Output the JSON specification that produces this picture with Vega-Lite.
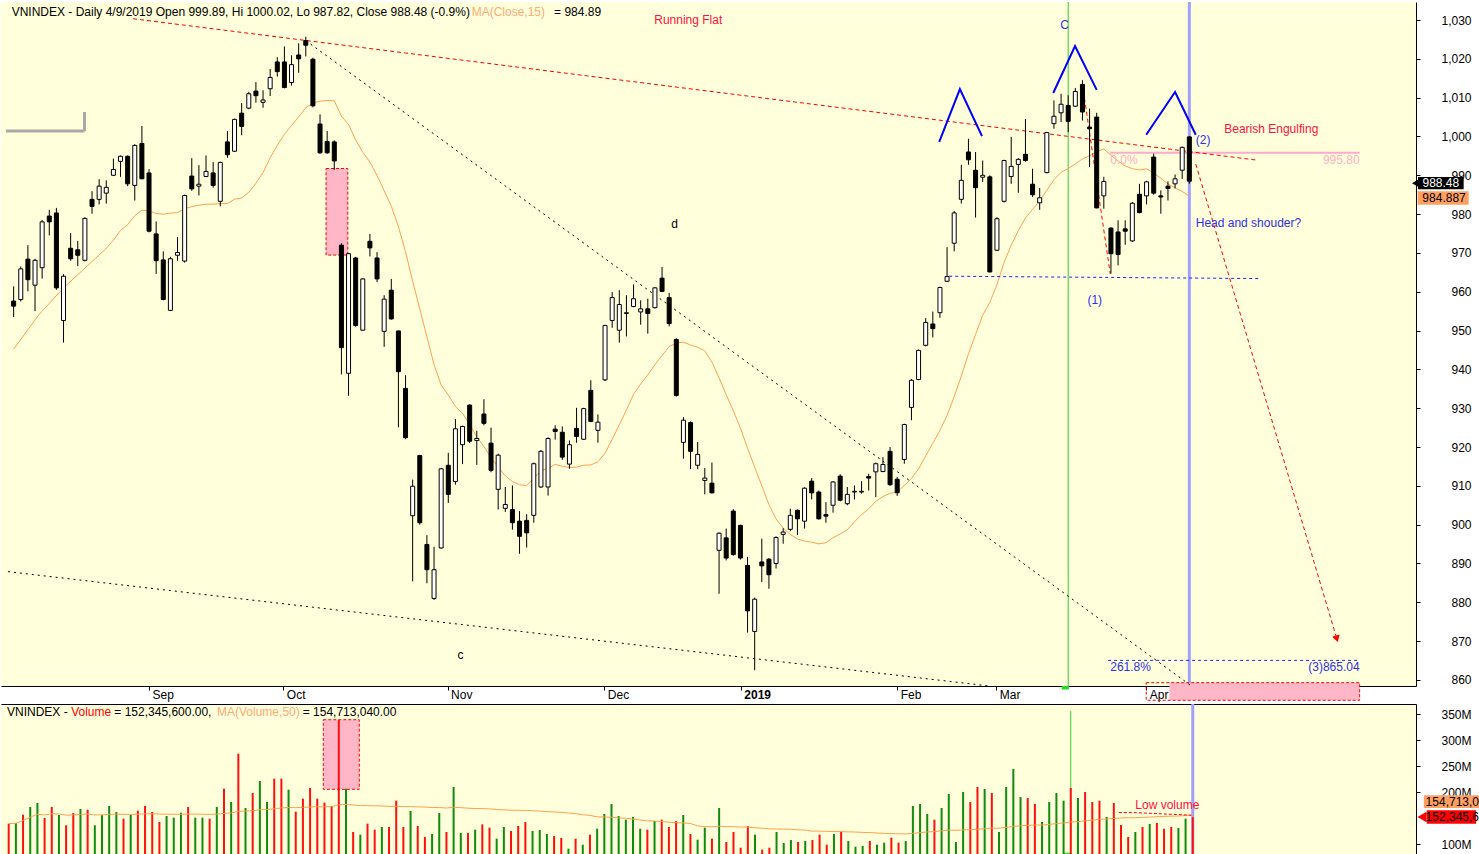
{
  "$schema": "https://vega.github.io/schema/vega-lite/v6.json",
  "background": "white",
  "padding": 0,
  "spacing": 18,
  "bounds": "flush",
  "config": {
    "view": {"fill": "#FFFFDC", "stroke": null},
    "font": "Liberation Sans",
    "text": {"font": "Liberation Sans", "fontSize": 12}
  },
  "datasets": {
    "candles": [
      {"t":0,"o":957.6,"h":961.4,"l":953.5,"c":956.3,"v":139.7},
      {"t":1,"o":958.0,"h":966.5,"l":957.5,"c":965.9,"v":141},
      {"t":2,"o":968.4,"h":972.0,"l":960.1,"c":963.1,"v":157},
      {"t":3,"o":961.7,"h":968.5,"l":955.0,"c":968.1,"v":171.7},
      {"t":4,"o":966.2,"h":978.5,"l":963.4,"c":978.0,"v":179.4},
      {"t":5,"o":979.5,"h":981.1,"l":974.5,"c":978.0,"v":150.6},
      {"t":6,"o":980.3,"h":981.6,"l":960.5,"c":961.0,"v":171.7},
      {"t":7,"o":952.6,"h":964.5,"l":946.9,"c":964.0,"v":156.3},
      {"t":8,"o":971.2,"h":975.1,"l":968.0,"c":968.5,"v":136.5},
      {"t":9,"o":970.8,"h":973.1,"l":966.6,"c":969.4,"v":160.2},
      {"t":10,"o":968.1,"h":979.2,"l":967.8,"c":978.9,"v":167.9},
      {"t":11,"o":983.8,"h":985.9,"l":980.1,"c":982.0,"v":166.6},
      {"t":12,"o":983.8,"h":989.0,"l":982.5,"c":987.2,"v":136.5},
      {"t":13,"o":985.4,"h":988.7,"l":982.7,"c":986.9,"v":156.3},
      {"t":14,"o":990.0,"h":994.3,"l":989.8,"c":991.5,"v":173.6},
      {"t":15,"o":993.6,"h":995.1,"l":989.6,"c":994.9,"v":162.1},
      {"t":16,"o":994.9,"h":995.1,"l":987.2,"c":987.8,"v":149.3},
      {"t":17,"o":987.4,"h":998.0,"l":983.5,"c":997.7,"v":156.3},
      {"t":18,"o":998.2,"h":1002.7,"l":989.0,"c":989.1,"v":164.7},
      {"t":19,"o":990.6,"h":991.6,"l":975.3,"c":975.6,"v":173.6},
      {"t":20,"o":974.9,"h":978.1,"l":964.6,"c":968.0,"v":162.1},
      {"t":21,"o":968.2,"h":970.4,"l":957.8,"c":958.0,"v":142.9},
      {"t":22,"o":955.2,"h":969.0,"l":955.0,"c":968.5,"v":154.4},
      {"t":23,"o":969.4,"h":974.1,"l":968.0,"c":970.1,"v":151.2},
      {"t":24,"o":967.9,"h":985.0,"l":967.5,"c":984.8,"v":160.8},
      {"t":25,"o":989.8,"h":994.4,"l":986.0,"c":986.5,"v":171.7},
      {"t":26,"o":987.2,"h":992.6,"l":984.8,"c":987.7,"v":151.2},
      {"t":27,"o":989.7,"h":995.1,"l":989.5,"c":991.0,"v":151.2},
      {"t":28,"o":990.6,"h":993.4,"l":986.8,"c":987.4,"v":149.3},
      {"t":29,"o":983.3,"h":993.5,"l":982.0,"c":993.3,"v":171.7},
      {"t":30,"o":998.6,"h":1001.4,"l":994.5,"c":995.3,"v":207},
      {"t":31,"o":996.2,"h":1004.6,"l":996.0,"c":1004.4,"v":181.3},
      {"t":32,"o":1006.0,"h":1008.6,"l":1000.3,"c":1002.6,"v":274.3},
      {"t":33,"o":1007.3,"h":1011.5,"l":1007.0,"c":1011.0,"v":169.8},
      {"t":34,"o":1011.7,"h":1014.0,"l":1008.7,"c":1010.5,"v":198.6},
      {"t":35,"o":1008.8,"h":1011.9,"l":1007.4,"c":1009.4,"v":221.7},
      {"t":36,"o":1012.3,"h":1017.4,"l":1010.4,"c":1015.2,"v":181.3},
      {"t":37,"o":1019.2,"h":1020.4,"l":1015.4,"c":1016.7,"v":226.2},
      {"t":38,"o":1019.2,"h":1023.2,"l":1012.4,"c":1012.6,"v":226.2},
      {"t":39,"o":1013.9,"h":1020.9,"l":1013.1,"c":1018.5,"v":205},
      {"t":40,"o":1021.0,"h":1024.0,"l":1016.4,"c":1020.0,"v":162.7},
      {"t":41,"o":1024.7,"h":1025.7,"l":1020.6,"c":1023.5,"v":187.8},
      {"t":42,"o":1019.9,"h":1020.3,"l":1007.5,"c":1007.9,"v":208.3},
      {"t":43,"o":1003.2,"h":1005.7,"l":995.5,"c":995.8,"v":187.8},
      {"t":44,"o":998.7,"h":1001.4,"l":995.5,"c":995.8,"v":180.1},
      {"t":45,"o":998.6,"h":999.0,"l":991.4,"c":993.7,"v":173.6},
      {"t":46,"o":972.0,"h":972.5,"l":938.7,"c":945.6,"v":339},
      {"t":47,"o":939.0,"h":970.0,"l":933.2,"c":969.8,"v":207},
      {"t":48,"o":968.7,"h":969.0,"l":951.0,"c":951.3,"v":123.7},
      {"t":49,"o":950.1,"h":963.5,"l":950.0,"c":963.3,"v":118.5},
      {"t":50,"o":973.0,"h":974.9,"l":969.1,"c":971.3,"v":139.7},
      {"t":51,"o":968.7,"h":970.2,"l":962.5,"c":963.3,"v":128.1},
      {"t":52,"o":949.8,"h":959.1,"l":945.8,"c":958.1,"v":133.3},
      {"t":53,"o":960.4,"h":963.3,"l":952.8,"c":953.0,"v":133.3},
      {"t":54,"o":949.9,"h":950.0,"l":925.1,"c":939.4,"v":183.9},
      {"t":55,"o":935.1,"h":938.5,"l":922.0,"c":922.4,"v":133.3},
      {"t":56,"o":902.3,"h":911.6,"l":885.4,"c":909.9,"v":164.0},
      {"t":57,"o":917.8,"h":918.0,"l":900.0,"c":900.5,"v":135.2},
      {"t":58,"o":894.9,"h":897.3,"l":884.9,"c":888.4,"v":114},
      {"t":59,"o":881.0,"h":894.3,"l":880.6,"c":888.4,"v":119.8},
      {"t":60,"o":894.0,"h":914.6,"l":893.8,"c":914.4,"v":160.2},
      {"t":61,"o":915.3,"h":918.5,"l":905.6,"c":907.8,"v":123.7},
      {"t":62,"o":911.1,"h":927.2,"l":910.3,"c":924.7,"v":210.2},
      {"t":63,"o":920.6,"h":925.5,"l":915.6,"c":925.3,"v":121.7},
      {"t":64,"o":930.8,"h":931.0,"l":921.0,"c":921.5,"v":121.7},
      {"t":65,"o":921.7,"h":924.2,"l":915.4,"c":922.2,"v":128.1},
      {"t":66,"o":928.5,"h":932.3,"l":925.6,"c":926.1,"v":138.4},
      {"t":67,"o":921.0,"h":925.0,"l":913.5,"c":914.0,"v":132},
      {"t":68,"o":909.1,"h":918.3,"l":903.9,"c":917.9,"v":110.8},
      {"t":69,"o":904.2,"h":909.7,"l":903.3,"c":905.2,"v":133.3},
      {"t":70,"o":903.9,"h":910.1,"l":898.7,"c":900.5,"v":125.6},
      {"t":71,"o":900.9,"h":903.5,"l":892.5,"c":897.0,"v":135.2},
      {"t":72,"o":901.1,"h":902.7,"l":894.1,"c":897.9,"v":142.9},
      {"t":73,"o":902.4,"h":916.0,"l":900.5,"c":915.7,"v":125.6},
      {"t":74,"o":909.7,"h":919.2,"l":909.5,"c":918.9,"v":127.5},
      {"t":75,"o":909.7,"h":922.5,"l":907.5,"c":922.2,"v":119.8},
      {"t":76,"o":924.6,"h":925.6,"l":921.9,"c":924.0,"v":116},
      {"t":77,"o":923.8,"h":925.3,"l":916.7,"c":917.4,"v":112.1},
      {"t":78,"o":915.6,"h":921.7,"l":914.4,"c":920.6,"v":91.6},
      {"t":79,"o":924.8,"h":930.1,"l":921.1,"c":922.7,"v":110.8},
      {"t":80,"o":922.0,"h":930.1,"l":921.8,"c":929.9,"v":99.3},
      {"t":81,"o":934.6,"h":937.2,"l":926.4,"c":926.6,"v":118.5},
      {"t":82,"o":924.3,"h":928.4,"l":921.1,"c":926.4,"v":130},
      {"t":83,"o":937.3,"h":951.5,"l":937.0,"c":951.3,"v":158.3},
      {"t":84,"o":952.6,"h":959.9,"l":950.7,"c":958.5,"v":177.5},
      {"t":85,"o":950.1,"h":960.4,"l":946.9,"c":956.7,"v":154.4},
      {"t":86,"o":954.4,"h":959.1,"l":948.5,"c":954.6,"v":147.4},
      {"t":87,"o":956.2,"h":961.9,"l":956.0,"c":958.2,"v":152.5},
      {"t":88,"o":954.8,"h":957.8,"l":951.5,"c":955.6,"v":130},
      {"t":89,"o":955.6,"h":958.2,"l":949.2,"c":954.4,"v":128.1},
      {"t":90,"o":955.9,"h":961.2,"l":955.7,"c":961.0,"v":144.8},
      {"t":91,"o":963.5,"h":966.4,"l":959.9,"c":960.1,"v":147.4},
      {"t":92,"o":958.5,"h":959.7,"l":951.1,"c":951.8,"v":133.3},
      {"t":93,"o":947.7,"h":948.0,"l":933.0,"c":933.3,"v":144.8},
      {"t":94,"o":921.2,"h":927.7,"l":917.0,"c":926.9,"v":156.3},
      {"t":95,"o":926.3,"h":926.6,"l":914.3,"c":918.9,"v":119.8},
      {"t":96,"o":915.3,"h":921.3,"l":914.3,"c":918.1,"v":108.9},
      {"t":97,"o":911.4,"h":914.6,"l":907.8,"c":912.0,"v":132},
      {"t":98,"o":910.7,"h":916.0,"l":908.0,"c":908.2,"v":110.8},
      {"t":99,"o":893.4,"h":898.0,"l":882.2,"c":897.8,"v":169.8},
      {"t":100,"o":896.6,"h":899.0,"l":890.8,"c":891.4,"v":104.4},
      {"t":101,"o":903.5,"h":904.0,"l":892.0,"c":892.3,"v":123.7},
      {"t":102,"o":899.8,"h":900.0,"l":891.0,"c":891.4,"v":93.5},
      {"t":103,"o":889.5,"h":891.7,"l":872.2,"c":877.8,"v":135.2},
      {"t":104,"o":872.5,"h":881.2,"l":862.5,"c":880.8,"v":118.5},
      {"t":105,"o":890.4,"h":896.4,"l":885.2,"c":889.4,"v":89.7},
      {"t":106,"o":891.1,"h":891.4,"l":883.5,"c":887.1,"v":93.5},
      {"t":107,"o":890.0,"h":897.0,"l":888.7,"c":896.7,"v":123.7},
      {"t":108,"o":897.5,"h":899.1,"l":895.1,"c":898.1,"v":102.5},
      {"t":109,"o":898.8,"h":904.1,"l":898.3,"c":902.4,"v":108.3},
      {"t":110,"o":903.7,"h":903.9,"l":897.3,"c":901.5,"v":104.4},
      {"t":111,"o":900.9,"h":909.6,"l":899.0,"c":909.4,"v":106.3},
      {"t":112,"o":911.2,"h":912.0,"l":906.5,"c":908.2,"v":108.3},
      {"t":113,"o":908.4,"h":908.8,"l":901.3,"c":901.5,"v":118.5},
      {"t":114,"o":902.6,"h":905.8,"l":900.5,"c":902.2,"v":99.3},
      {"t":115,"o":905.0,"h":911.2,"l":903.1,"c":911.0,"v":119.8},
      {"t":116,"o":912.5,"h":913.0,"l":906.0,"c":906.3,"v":123.7},
      {"t":117,"o":905.4,"h":909.7,"l":905.0,"c":907.8,"v":106.3},
      {"t":118,"o":908.4,"h":910.1,"l":906.5,"c":908.6,"v":95.4},
      {"t":119,"o":908.4,"h":911.2,"l":908.0,"c":908.6,"v":96.7},
      {"t":120,"o":912.4,"h":913.1,"l":908.8,"c":912.0,"v":106.3},
      {"t":121,"o":913.6,"h":916.0,"l":907.1,"c":915.7,"v":99.3},
      {"t":122,"o":913.7,"h":917.4,"l":913.5,"c":915.5,"v":103.1},
      {"t":123,"o":918.9,"h":920.0,"l":910.0,"c":910.3,"v":112.7},
      {"t":124,"o":911.7,"h":912.3,"l":907.4,"c":908.2,"v":103.1},
      {"t":125,"o":916.8,"h":926.0,"l":915.7,"c":925.8,"v":106.3},
      {"t":126,"o":930.2,"h":937.5,"l":926.9,"c":937.2,"v":173.6},
      {"t":127,"o":937.4,"h":945.1,"l":937.2,"c":944.9,"v":177.5},
      {"t":128,"o":946.2,"h":953.2,"l":945.9,"c":952.1,"v":158.3},
      {"t":129,"o":951.7,"h":954.9,"l":948.2,"c":950.5,"v":147.4},
      {"t":130,"o":954.6,"h":961.3,"l":953.3,"c":961.1,"v":169.8},
      {"t":131,"o":962.7,"h":971.5,"l":962.5,"c":963.9,"v":196.7},
      {"t":132,"o":972.5,"h":980.8,"l":970.4,"c":980.3,"v":104.4},
      {"t":133,"o":983.8,"h":992.7,"l":982.7,"c":988.7,"v":200.6},
      {"t":134,"o":996.0,"h":999.4,"l":992.7,"c":994.0,"v":181.3},
      {"t":135,"o":991.3,"h":996.0,"l":979.1,"c":986.8,"v":210.2},
      {"t":136,"o":989.5,"h":993.8,"l":988.3,"c":990.0,"v":206.3},
      {"t":137,"o":989.6,"h":990.0,"l":965.0,"c":965.1,"v":198.6},
      {"t":138,"o":970.7,"h":979.2,"l":970.5,"c":978.8,"v":123.7},
      {"t":139,"o":983.3,"h":994.0,"l":983.0,"c":993.8,"v":210.2},
      {"t":140,"o":989.7,"h":999.9,"l":987.8,"c":992.3,"v":244.8},
      {"t":141,"o":992.8,"h":994.4,"l":985.5,"c":994.1,"v":190.9},
      {"t":142,"o":995.4,"h":1004.5,"l":993.5,"c":993.8,"v":189},
      {"t":143,"o":987.7,"h":991.7,"l":984.4,"c":985.0,"v":177.5},
      {"t":144,"o":982.9,"h":986.7,"l":981.1,"c":984.2,"v":142.9},
      {"t":145,"o":990.7,"h":1001.2,"l":990.5,"c":1001.0,"v":181.3},
      {"t":146,"o":1003.3,"h":1009.3,"l":1002.0,"c":1005.2,"v":198.6},
      {"t":147,"o":1006.1,"h":1011.0,"l":1003.7,"c":1008.3,"v":183.9},
      {"t":148,"o":1008.0,"h":1010.6,"l":1001.1,"c":1003.9,"v":208.3},
      {"t":149,"o":1007.8,"h":1012.5,"l":1007.6,"c":1011.6,"v":189},
      {"t":150,"o":1013.4,"h":1014.5,"l":1004.1,"c":1006.3,"v":200.6},
      {"t":151,"o":1002.4,"h":1007.2,"l":992.1,"c":1002.0,"v":181.3},
      {"t":152,"o":1005.0,"h":1006.1,"l":981.5,"c":981.6,"v":183.9},
      {"t":153,"o":984.7,"h":989.6,"l":981.4,"c":988.4,"v":152.5},
      {"t":154,"o":976.4,"h":976.6,"l":964.7,"c":969.8,"v":179.4},
      {"t":155,"o":975.4,"h":978.4,"l":966.8,"c":969.6,"v":137.1},
      {"t":156,"o":976.2,"h":978.4,"l":972.1,"c":975.6,"v":114},
      {"t":157,"o":973.1,"h":983.1,"l":972.8,"c":982.8,"v":123.7},
      {"t":158,"o":985.1,"h":987.8,"l":980.2,"c":980.4,"v":133.3},
      {"t":159,"o":984.7,"h":988.6,"l":982.5,"c":988.3,"v":139},
      {"t":160,"o":994.7,"h":995.6,"l":985.0,"c":985.4,"v":141},
      {"t":161,"o":984.7,"h":986.1,"l":980.1,"c":984.4,"v":130},
      {"t":162,"o":987.2,"h":988.4,"l":983.5,"c":986.6,"v":133.3},
      {"t":163,"o":987.8,"h":990.2,"l":986.6,"c":989.1,"v":131.3},
      {"t":164,"o":991.3,"h":997.4,"l":989.1,"c":997.2,"v":149.3},
      {"t":165,"o":999.89,"h":1000.02,"l":987.82,"c":988.48,"v":152.35}
    ],
    "segs": [
      {"g":"red","id":"tr","t":16.77,"p":1030.33},{"g":"red","id":"tr","t":174.5,"p":993.9},
      {"g":"red","id":"leg","t":150.0,"p":1013.5},{"g":"red","id":"leg","t":153.9,"p":964.6},
      {"g":"red","id":"arr","t":165.9,"p":992.9},{"g":"red","id":"arr","t":185.7,"p":870.6},
      {"g":"blk","id":"b1","t":41.0,"p":1024.7},{"g":"blk","id":"b1","t":165.3,"p":858.44},
      {"g":"blk","id":"b2","t":-0.8,"p":887.9},{"g":"blk","id":"b2","t":136.9,"p":858.44},
      {"g":"neck","id":"n","t":131.3,"p":964.0},{"g":"neck","id":"n","t":174.7,"p":963.4},
      {"g":"neck","id":"f1","t":153.6,"p":865.04},{"g":"neck","id":"f1","t":188.9,"p":865.04},
      {"g":"pink","id":"f0","t":153.9,"p":995.8},{"g":"pink","id":"f0","t":188.9,"p":995.8},
      {"g":"hs","id":"ls","t":129.9,"p":998.6},{"g":"hs","id":"ls","t":132.8,"p":1012.2},{"g":"hs","id":"ls","t":135.9,"p":1000.1},
      {"g":"hs","id":"hd","t":145.9,"p":1011.2},{"g":"hs","id":"hd","t":148.96,"p":1023.3},{"g":"hs","id":"hd","t":152.0,"p":1012.0},
      {"g":"hs","id":"rs","t":158.95,"p":1000.45},{"g":"hs","id":"rs","t":163.0,"p":1011.45},{"g":"hs","id":"rs","t":165.9,"p":1000.45},
      {"g":"gray","id":"g1","t":-1.07,"p":1001.4},{"g":"gray","id":"g1","t":9.94,"p":1001.4},
      {"g":"gray","id":"g2","t":9.94,"p":1006.3},{"g":"gray","id":"g2","t":9.94,"p":1001.4}
    ]
  },
  "vconcat": [
    {
      "width": 1415,
      "height": 684,
      "encoding": {
        "x": {
          "field": "t",
          "type": "quantitative",
          "scale": {"domain": [-1.073, 196.11], "nice": false, "zero": false},
          "axis": {
            "orient": "bottom",
            "title": null,
            "grid": false,
            "values": [19, 37.85, 60.9, 82.9, 102.05, 124, 137.9, 158.95],
            "labelExpr": "datum.value < 25 ? 'Sep' : datum.value < 45 ? 'Oct' : datum.value < 70 ? 'Nov' : datum.value < 90 ? 'Dec' : datum.value < 110 ? '2019' : datum.value < 130 ? 'Feb' : datum.value < 150 ? 'Mar' : 'Apr'",
            "labelFontWeight": {"condition": {"test": "datum.value > 100 && datum.value < 110", "value": "bold"}, "value": "normal"},
            "labelAlign": "left",
            "labelBaseline": "top",
            "labelOffset": 3,
            "labelPadding": -1,
            "labelFont": "Liberation Sans",
            "labelFontSize": 12,
            "labelColor": "black",
            "labelFlush": false,
            "labelOverlap": false,
            "tickSize": 4,
            "tickColor": "black",
            "domainColor": "black"
          }
        },
        "y": {
          "field": "p",
          "type": "quantitative",
          "scale": {"domain": [858.44, 1034.64], "nice": false, "zero": false},
          "axis": {
            "orient": "right", "title": null, "grid": false,
            "values": [860, 870, 880, 890, 900, 910, 920, 930, 940, 950, 960, 970, 980, 990, 1000, 1010, 1020, 1030],
            "format": ",.0f", "labelAlign": "right", "labelBaseline": "middle", "labelPadding": 51,
            "labelFont": "Liberation Sans", "labelFontSize": 12, "labelColor": "black",
            "labelFlush": false, "labelOverlap": false, "tickSize": 4, "tickColor": "black", "domainColor": "black"
          }
        }
      },
      "layer": [
        {
          "data": {"values": [{"t": 148, "p": 1034.64, "p2": 858.44}]},
          "mark": {"type": "rule", "color": "#33CC33", "strokeWidth": 1},
          "encoding": {"y2": {"field": "p2"}}
        },
        {
          "data": {"values": [{"t": 165, "p": 1034.64, "p2": 858.44}]},
          "mark": {"type": "rule", "color": "#A0A0FF", "strokeWidth": 3},
          "encoding": {"y2": {"field": "p2"}}
        },
        {
          "data": {"values": [{"t": 43.84, "t2": 46.9, "p": 991.75, "p2": 969.45}]},
          "mark": {"type": "rect", "fill": "#FFB6C6", "stroke": "#FF0000", "strokeWidth": 1, "strokeDash": [3, 2]},
          "encoding": {"x2": {"field": "t2"}, "y2": {"field": "p2"}}
        },
        {
          "data": {"values": [{"t": 162.2, "t2": 188.9, "p": 859.3, "p2": 854.76}]},
          "mark": {"type": "rect", "fill": "#FFB6C6"},
          "encoding": {"x2": {"field": "t2"}, "y2": {"field": "p2"}}
        },
        {
          "data": {"values": [{"t": 158.95, "t2": 188.9, "p": 859.3, "p2": 854.76}]},
          "mark": {"type": "rect", "fillOpacity": 0, "stroke": "#FF0000", "strokeWidth": 1, "strokeDash": [3, 2]},
          "encoding": {"x2": {"field": "t2"}, "y2": {"field": "p2"}}
        },
        {
          "data": {"values": [{"t": 147.1, "t2": 148.1, "p": 858.44, "p2": 857.54}]},
          "mark": {"type": "rect", "fill": "#22DD22"},
          "encoding": {"x2": {"field": "t2"}, "y2": {"field": "p2"}}
        },
        {
          "data": {"name": "segs"},
          "transform": [{"filter": "datum.g == 'pink'"}],
          "mark": {"type": "line", "color": "#FFAACC", "strokeWidth": 2},
          "encoding": {"detail": {"field": "id"}}
        },
        {
          "data": {"name": "segs"},
          "transform": [{"filter": "datum.g == 'gray'"}],
          "mark": {"type": "line", "color": "#A8A8A8", "strokeWidth": 3},
          "encoding": {"detail": {"field": "id"}}
        },
        {
          "data": {"values": [{"t": 0, "p": 945.2}, {"t": 3.5, "p": 954}, {"t": 7, "p": 961}, {"t": 12.9, "p": 971}, {"t": 14, "p": 973.25}]},
          "mark": {"type": "line", "color": "#FFA050", "strokeWidth": 1},
          "encoding": {}
        },
        {
          "data": {"name": "candles"},
          "transform": [
            {"window": [{"op": "mean", "field": "c", "as": "ma"}], "frame": [-14, 0], "sort": [{"field": "t"}]},
            {"filter": "datum.t >= 14"}
          ],
          "mark": {"type": "line", "color": "#FFA050", "strokeWidth": 1},
          "encoding": {
            "y": {
              "field": "ma", "type": "quantitative",
              "scale": {"domain": [858.44, 1034.64], "nice": false, "zero": false},
              "axis": {
                "orient": "right", "title": null, "grid": false,
                "values": [860, 870, 880, 890, 900, 910, 920, 930, 940, 950, 960, 970, 980, 990, 1000, 1010, 1020, 1030],
                "format": ",.0f", "labelAlign": "right", "labelBaseline": "middle", "labelPadding": 51,
                "labelFont": "Liberation Sans", "labelFontSize": 12, "labelColor": "black",
                "labelFlush": false, "labelOverlap": false, "tickSize": 4, "tickColor": "black", "domainColor": "black"
              }
            }
          }
        },
        {
          "data": {"name": "segs"},
          "transform": [{"filter": "datum.g == 'blk'"}],
          "mark": {"type": "line", "color": "black", "strokeWidth": 1, "strokeDash": [2, 4]},
          "encoding": {"detail": {"field": "id"}}
        },
        {
          "data": {"name": "segs"},
          "transform": [{"filter": "datum.g == 'red'"}],
          "mark": {"type": "line", "color": "#FF0000", "strokeWidth": 1, "strokeDash": [4, 3]},
          "encoding": {"detail": {"field": "id"}}
        },
        {
          "data": {"name": "segs"},
          "transform": [{"filter": "datum.g == 'neck'"}],
          "mark": {"type": "line", "color": "#2020FF", "strokeWidth": 1, "strokeDash": [3, 3]},
          "encoding": {"detail": {"field": "id"}}
        },
        {
          "data": {"values": [{"t": 185.7, "p": 870.6}]},
          "mark": {"type": "point", "shape": "triangle-down", "filled": true, "color": "#FF0000", "size": 60, "angle": 343, "opacity": 1}
        },
        {
          "data": {"name": "candles"},
          "mark": {"type": "rule", "color": "black", "strokeWidth": 1},
          "encoding": {
            "y": {
              "field": "l", "type": "quantitative",
              "scale": {"domain": [858.44, 1034.64], "nice": false, "zero": false},
              "axis": {
                "orient": "right", "title": null, "grid": false,
                "values": [860, 870, 880, 890, 900, 910, 920, 930, 940, 950, 960, 970, 980, 990, 1000, 1010, 1020, 1030],
                "format": ",.0f", "labelAlign": "right", "labelBaseline": "middle", "labelPadding": 51,
                "labelFont": "Liberation Sans", "labelFontSize": 12, "labelColor": "black",
                "labelFlush": false, "labelOverlap": false, "tickSize": 4, "tickColor": "black", "domainColor": "black"
              }
            },
            "y2": {"field": "h"}
          }
        },
        {
          "data": {"name": "candles"},
          "mark": {"type": "bar", "width": 4, "stroke": "black", "strokeWidth": 1},
          "encoding": {
            "y": {
              "field": "o", "type": "quantitative",
              "scale": {"domain": [858.44, 1034.64], "nice": false, "zero": false},
              "axis": {
                "orient": "right", "title": null, "grid": false,
                "values": [860, 870, 880, 890, 900, 910, 920, 930, 940, 950, 960, 970, 980, 990, 1000, 1010, 1020, 1030],
                "format": ",.0f", "labelAlign": "right", "labelBaseline": "middle", "labelPadding": 51,
                "labelFont": "Liberation Sans", "labelFontSize": 12, "labelColor": "black",
                "labelFlush": false, "labelOverlap": false, "tickSize": 4, "tickColor": "black", "domainColor": "black"
              }
            },
            "y2": {"field": "c"},
            "fill": {"condition": {"test": "datum.c < datum.o", "value": "black"}, "value": "white"}
          }
        },
        {
          "data": {"name": "segs"},
          "transform": [{"filter": "datum.g == 'hs'"}],
          "mark": {"type": "line", "color": "#0000FF", "strokeWidth": 2},
          "encoding": {"detail": {"field": "id"}}
        },
        {
          "data": {"values": [
            {"t": -0.28, "p": 1032.14, "s": "VNINDEX - Daily 4/9/2019 Open 999.89, Hi 1000.02, Lo 987.82, Close 988.48 (-0.9%)"},
            {"t": 75.85, "p": 1032.14, "s": "= 984.89"},
            {"t": 92.3, "p": 977.4, "s": "d"},
            {"t": 62.3, "p": 866.4, "s": "c"}
          ]},
          "mark": {"type": "text", "align": "left", "baseline": "middle", "color": "black", "fontSize": 12},
          "encoding": {"text": {"field": "s"}}
        },
        {
          "data": {"values": [{"t": 64.28, "p": 1032.14, "s": "MA(Close,15)"}]},
          "mark": {"type": "text", "align": "left", "baseline": "middle", "color": "#FFAA77", "fontSize": 12},
          "encoding": {"text": {"field": "s"}}
        },
        {
          "data": {"values": [
            {"t": 89.9, "p": 1029.92, "s": "Running Flat"},
            {"t": 169.9, "p": 1001.8, "s": "Bearish Engulfing"}
          ]},
          "mark": {"type": "text", "align": "left", "baseline": "middle", "color": "#FF1040", "fontSize": 12},
          "encoding": {"text": {"field": "s"}}
        },
        {
          "data": {"values": [
            {"t": 146.9, "p": 1028.7, "s": "C"},
            {"t": 150.7, "p": 957.9, "s": "(1)"},
            {"t": 165.9, "p": 999.1, "s": "(2)"},
            {"t": 165.9, "p": 977.8, "s": "Head and shouder?"},
            {"t": 153.9, "p": 863.3, "s": "261.8%"}
          ]},
          "mark": {"type": "text", "align": "left", "baseline": "middle", "color": "#3030E8", "fontSize": 12},
          "encoding": {"text": {"field": "s"}}
        },
        {
          "data": {"values": [{"t": 188.9, "p": 863.3, "s": "(3)865.04"}]},
          "mark": {"type": "text", "align": "right", "baseline": "middle", "color": "#3030E8", "fontSize": 12},
          "encoding": {"text": {"field": "s"}}
        },
        {
          "data": {"values": [{"t": 153.9, "p": 993.9, "s": "0.0%"}]},
          "mark": {"type": "text", "align": "left", "baseline": "middle", "color": "#FFB0C8", "fontSize": 12},
          "encoding": {"text": {"field": "s"}}
        },
        {
          "data": {"values": [{"t": 188.9, "p": 993.9, "s": "995.80"}]},
          "mark": {"type": "text", "align": "right", "baseline": "middle", "color": "#FFB0C8", "fontSize": 12},
          "encoding": {"text": {"field": "s"}}
        },
        {
          "data": {"values": [{"t": 197.1, "t2": 203.5, "p": 989.56, "p2": 986.39}]},
          "mark": {"type": "rect", "fill": "black"},
          "encoding": {"x2": {"field": "t2"}, "y2": {"field": "p2"}}
        },
        {
          "data": {"values": [{"t": 196.75, "p": 987.97}]},
          "mark": {"type": "point", "shape": "triangle-left", "filled": true, "color": "black", "size": 70, "opacity": 1}
        },
        {
          "data": {"values": [{"t": 197.05, "t2": 204.2, "p": 985.87, "p2": 982.42}]},
          "mark": {"type": "rect", "fill": "#FFA060"},
          "encoding": {"x2": {"field": "t2"}, "y2": {"field": "p2"}}
        },
        {
          "data": {"values": [{"t": 200.3, "p": 987.97, "s": "988.48"}]},
          "mark": {"type": "text", "align": "center", "baseline": "middle", "color": "white", "fontSize": 12},
          "encoding": {"text": {"field": "s"}}
        },
        {
          "data": {"values": [{"t": 200.75, "p": 984.15, "s": "984.887"}]},
          "mark": {"type": "text", "align": "center", "baseline": "middle", "color": "black", "fontSize": 12},
          "encoding": {"text": {"field": "s"}}
        }
      ]
    },
    {
      "width": 1415,
      "height": 152,
      "encoding": {
        "x": {
          "field": "t",
          "type": "quantitative",
          "scale": {"domain": [-1.073, 196.11], "nice": false, "zero": false},
          "axis": {"orient": "top", "title": null, "grid": false, "labels": false, "ticks": false, "domainColor": "black"}
        },
        "y": {
          "field": "p",
          "type": "quantitative",
          "scale": {"domain": [77.5, 369.8], "nice": false, "zero": false},
          "axis": {
            "orient": "right", "title": null, "grid": false,
            "values": [100, 200, 250, 300, 350],
            "labelExpr": "datum.value + 'M'", "labelAlign": "right", "labelBaseline": "middle", "labelPadding": 51,
            "labelFont": "Liberation Sans", "labelFontSize": 12, "labelColor": "black",
            "labelFlush": false, "labelOverlap": false, "tickSize": 4, "tickColor": "black", "domainColor": "black"
          }
        }
      },
      "layer": [
        {
          "data": {"values": [{"t": 148, "p": 356, "p2": 77.5}]},
          "mark": {"type": "rule", "color": "#33CC33", "strokeWidth": 1},
          "encoding": {"y2": {"field": "p2"}}
        },
        {
          "data": {"values": [{"t": 165, "p": 369.8, "p2": 77.5}]},
          "mark": {"type": "rule", "color": "#A0A0FF", "strokeWidth": 3},
          "encoding": {"y2": {"field": "p2"}}
        },
        {
          "data": {"values": [{"t": 43.84, "t2": 48.86, "p": 339.6, "p2": 205.8}]},
          "mark": {"type": "rect", "fill": "#FFB6C6", "stroke": "#FF0000", "strokeWidth": 1, "strokeDash": [3, 2]},
          "encoding": {"x2": {"field": "t2"}, "y2": {"field": "p2"}}
        },
        {
          "data": {"values": [{"t": 147.1, "t2": 148.1, "p": 83.8, "p2": 77.5}]},
          "mark": {"type": "rect", "fill": "#22DD22"},
          "encoding": {"x2": {"field": "t2"}, "y2": {"field": "p2"}}
        },
        {
          "data": {"name": "candles"},
          "mark": {"type": "rule", "strokeWidth": 2},
          "encoding": {
            "y": {
              "field": "v", "type": "quantitative",
              "scale": {"domain": [77.5, 369.8], "nice": false, "zero": false},
              "axis": {
                "orient": "right", "title": null, "grid": false,
                "values": [100, 200, 250, 300, 350],
                "labelExpr": "datum.value + 'M'", "labelAlign": "right", "labelBaseline": "middle", "labelPadding": 51,
                "labelFont": "Liberation Sans", "labelFontSize": 12, "labelColor": "black",
                "labelFlush": false, "labelOverlap": false, "tickSize": 4, "tickColor": "black", "domainColor": "black"
              }
            },
            "y2": {"datum": 77.5},
            "color": {"condition": {"test": "datum.c < datum.o", "value": "#FF1010"}, "value": "#108A10"}
          }
        },
        {
          "data": {"name": "candles"},
          "transform": [
            {"window": [{"op": "mean", "field": "v", "as": "mv"}], "frame": [-49, 0], "sort": [{"field": "t"}]}
          ],
          "mark": {"type": "line", "color": "#FFA050", "strokeWidth": 1},
          "encoding": {
            "y": {
              "field": "mv", "type": "quantitative",
              "scale": {"domain": [77.5, 369.8], "nice": false, "zero": false},
              "axis": {
                "orient": "right", "title": null, "grid": false,
                "values": [100, 200, 250, 300, 350],
                "labelExpr": "datum.value + 'M'", "labelAlign": "right", "labelBaseline": "middle", "labelPadding": 51,
                "labelFont": "Liberation Sans", "labelFontSize": 12, "labelColor": "black",
                "labelFlush": false, "labelOverlap": false, "tickSize": 4, "tickColor": "black", "domainColor": "black"
              }
            }
          }
        },
        {
          "data": {"values": [{"t": 154.7, "p": 161}, {"t": 156.8, "p": 161}, {"t": 164.8, "p": 156}]},
          "mark": {"type": "line", "color": "#FF0000", "strokeWidth": 1, "strokeDash": [3, 2]},
          "encoding": {}
        },
        {
          "data": {"values": [
            {"t": -0.24, "p": 353.5, "s": "VNINDEX -"},
            {"t": 14.72, "p": 353.5, "s": "= 152,345,600.00,"},
            {"t": 40.97, "p": 353.5, "s": "= 154,713,040.00"}
          ]},
          "mark": {"type": "text", "align": "left", "baseline": "middle", "color": "black", "fontSize": 12},
          "encoding": {"text": {"field": "s"}}
        },
        {
          "data": {"values": [{"t": 8.7, "p": 353.5, "s": "Volume"}]},
          "mark": {"type": "text", "align": "left", "baseline": "middle", "color": "#FF0000", "fontSize": 12},
          "encoding": {"text": {"field": "s"}}
        },
        {
          "data": {"values": [{"t": 29.03, "p": 353.5, "s": "MA(Volume,50)"}]},
          "mark": {"type": "text", "align": "left", "baseline": "middle", "color": "#FFAA77", "fontSize": 12},
          "encoding": {"text": {"field": "s"}}
        },
        {
          "data": {"values": [{"t": 157.0, "p": 175.6, "s": "Low volume"}]},
          "mark": {"type": "text", "align": "left", "baseline": "middle", "color": "#FF1040", "fontSize": 12},
          "encoding": {"text": {"field": "s"}}
        },
        {
          "data": {"values": [{"t": 197.2, "t2": 204.9, "p": 194.2, "p2": 169.8}]},
          "mark": {"type": "rect", "fill": "#FFA060"},
          "encoding": {"x2": {"field": "t2"}, "y2": {"field": "p2"}}
        },
        {
          "data": {"values": [{"t": 197.6, "t2": 204.5, "p": 165.4, "p2": 139.6}]},
          "mark": {"type": "rect", "fill": "#FF0000"},
          "encoding": {"x2": {"field": "t2"}, "y2": {"field": "p2"}}
        },
        {
          "data": {"values": [{"t": 196.95, "p": 152.5}]},
          "mark": {"type": "point", "shape": "triangle-left", "filled": true, "color": "#FF0000", "size": 110, "opacity": 1}
        },
        {
          "data": {"values": [{"t": 197.45, "p": 181.9, "s": "154,713,0"}, {"t": 197.45, "p": 152.5, "s": "152,345,6"}]},
          "mark": {"type": "text", "align": "left", "baseline": "middle", "color": "black", "fontSize": 12},
          "encoding": {"text": {"field": "s"}}
        }
      ]
    }
  ]
}
